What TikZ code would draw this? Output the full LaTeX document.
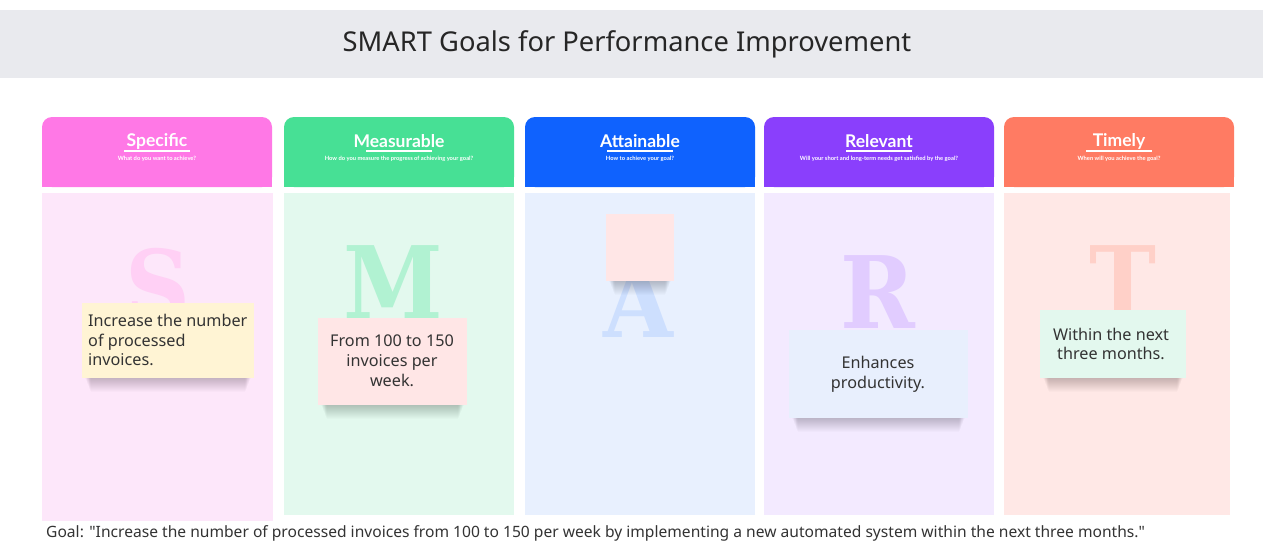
\documentclass[tikz,border=0pt]{standalone}
\usepackage{fontspec}
\setmainfont{Noto Sans}[Ligatures=TeXOff]
\newfontfamily\slabfont{DejaVu Serif}
\newfontfamily\hdrfont{Lato}
\definecolor{titlebg}{HTML}{E9EAEE}
\definecolor{txt}{HTML}{333333}
\definecolor{hS}{HTML}{FF78E6}\definecolor{bS}{HTML}{FDE7FA}\definecolor{lS}{HTML}{FFD0F5}
\definecolor{hM}{HTML}{47E095}\definecolor{bM}{HTML}{E3F9EE}\definecolor{lM}{HTML}{B1F2D2}
\definecolor{hA}{HTML}{0F62FE}\definecolor{bA}{HTML}{E8F0FE}\definecolor{lA}{HTML}{CDDFFE}
\definecolor{hR}{HTML}{8A3FFC}\definecolor{bR}{HTML}{F3EAFF}\definecolor{lR}{HTML}{E1CCFF}
\definecolor{hT}{HTML}{FF7B63}\definecolor{bT}{HTML}{FFE8E6}\definecolor{lT}{HTML}{FFD0C8}
\definecolor{nY}{HTML}{FFF4D4}\definecolor{nP}{HTML}{FFE6E6}\definecolor{nB}{HTML}{E8EFFD}\definecolor{nG}{HTML}{E3F8EE}
\tikzset{
  hdrtitle/.style={text=white,font=\hdrfont\bfseries\fontsize{17.5}{20}\selectfont,inner sep=0pt},
  hdrsub/.style={text=white,font=\hdrfont\bfseries\fontsize{5.8}{7}\selectfont,inner sep=0pt},
  bigletter/.style={anchor=base,inner sep=0pt,font=\slabfont\bfseries\fontsize{100}{100}\selectfont,xscale=0.9},
  shadowlayer/.style={fill=black,opacity=0.014},
  notetext/.style={text=txt,font=\fontsize{16.2}{19.8}\selectfont,inner sep=0pt},
}
\newcommand\stickynote[5]{%
  \foreach \i in {1,...,14}{\fill[shadowlayer] (#1+3+0.4*\i,#4-12) rectangle (#3-3-0.4*\i,#4+\i);}
  \fill[#5] (#1,#2) rectangle (#3,#4);}
\begin{document}
\begin{tikzpicture}[x=1pt,y=-1pt]
\useasboundingbox (0,0) rectangle (1271,554);
\fill[white] (0,0) rectangle (1271,554);
% title bar
\fill[titlebg] (0,10) rectangle (1263,78);
\node[text=black!85,font=\fontsize{27.3}{30}\selectfont,inner sep=0pt] (title) at (627,44) {SMART Goals for Performance Improvement};
% columns
\foreach \k/\xl/\xr/\bb/\br/\ttl/\sub in {
  S/42/272/521/273/Specific/What do you want to achieve?,
  M/284/514/515/514/Measurable/How do you measure the progress of achieving your goal?,
  A/525/755/515/755/Attainable/How to achieve your goal?,
  R/764/994/515/994/Relevant/Will your short and long-term needs get satisfied by the goal?,
  T/1004/1234/515/1230/Timely/When will you achieve the goal?}{
  \fill[h\k,rounded corners=10] (\xl,117) rectangle (\xr,187);
  \fill[h\k] (\xl,150) rectangle (\xr,187);
  \fill[b\k] (\xl,193) rectangle (\br,\bb);
  \pgfmathsetmacro{\cx}{(\xl+\xr)/2}
  \node[hdrtitle] (t\k) at (\cx,141) {\ttl};
  \draw[white,line width=1.5] (\cx-33,151) -- (\cx+33,151);
  \node[hdrsub] (s\k) at (\cx,159) {\sub};
}
% big letters
\node[bigletter,text=lS] (LS) at (158,322) {S};
\node[bigletter,text=lM] (LM) at (393,318) {M};
\node[bigletter,text=lA] (LA) at (638,337) {A};
\node[bigletter,text=lR] (LR) at (878,328) {R};
\node[bigletter,text=lT] (LT) at (1123,318) {T};
% notes
\stickynote{82}{303}{254}{378}{nY}
\node[notetext,anchor=west,align=left] (n1) at (88,340) {Increase the number\\of processed\\invoices.};
\stickynote{318}{318}{467}{405}{nP}
\node[notetext,align=center] (n2) at (392,361) {From 100 to 150\\invoices per\\week.};
\stickynote{606}{214}{674}{281}{nP}
\stickynote{789}{330}{968}{418}{nB}
\node[notetext,align=center] (n4) at (878,374) {Enhances\\productivity.};
\stickynote{1040}{310}{1186}{378}{nG}
\node[notetext,align=center] (n5) at (1111,344) {Within the next\\ three months.};
% goal
\node[text=txt,font=\fontsize{15.6}{17}\selectfont,inner sep=0pt,anchor=west] (goal) at (46,533) {Goal: "Increase the number of processed invoices from 100 to 150 per week by implementing a new automated system within the next three months."};
\end{tikzpicture}
\end{document}
